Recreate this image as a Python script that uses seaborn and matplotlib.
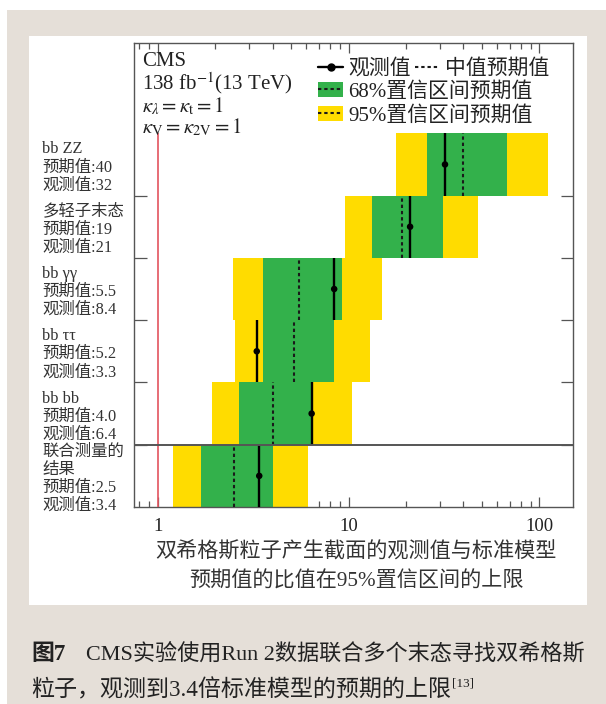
import numpy as np
import pandas as pd
import matplotlib
matplotlib.use("Agg")
import matplotlib.pyplot as plt
import matplotlib.ticker as mticker
from matplotlib.patches import Rectangle, Patch
from matplotlib.lines import Line2D
from matplotlib.legend_handler import HandlerTuple
import seaborn as sns

# Upper limits on the HH cross section relative to the SM prediction (95% CL)
channels = ["bb ZZ", "多轻子末态", "bb γγ", "bb ττ", "bb bb", "联合测量的\n结果"]
expected = [40, 19, 5.5, 5.2, 4.0, 2.5]
observed = [32, 21, 8.4, 3.3, 6.4, 3.4]
band68_lo = [25.8, 13.3, 3.56, 3.56, 2.66, 1.68]
band68_hi = [67.9, 31.3, 9.25, 8.4, 6.5, 4.02]
band95_lo = [17.8, 9.6, 2.48, 2.54, 1.92, 1.20]
band95_hi = [111, 47.8, 15.0, 13.0, 10.4, 6.13]

x_ticks = [1, 10, 100]
x_tick_labels = ["1", "10", "100"]

GREEN = "#33b14b"
YELLOW = "#ffdc00"
INK = "#222222"
DOT = (0, (1.6, 1.4))

sns.set_theme(style="ticks")
plt.rcParams["font.family"] = ["Liberation Serif", "Noto Sans CJK SC"]
plt.rcParams["mathtext.fontset"] = "stix"
plt.rcParams["text.color"] = INK

W, H = 606, 704
fig = plt.figure(figsize=(W / 100, H / 100), dpi=100)
fig.patch.set_facecolor("white")


def fx(px):
    return px / W


def fy(py):
    return 1 - py / H


# page background and white panel
fig.patches.append(Rectangle((fx(7), 0), 1 - fx(7), fy(10), transform=fig.transFigure,
                             facecolor="#e5dfd8", edgecolor="none", zorder=-10))
fig.patches.append(Rectangle((fx(29), fy(605)), fx(587) - fx(29), fy(36) - fy(605),
                             transform=fig.transFigure, facecolor="white",
                             edgecolor="none", zorder=-9))

ax = fig.add_axes([fx(134), fy(507), fx(573) - fx(134), fy(43) - fy(507)])

df = pd.DataFrame({
    "channel": channels,
    "expected": expected,
    "observed": observed,
    "lo68": band68_lo, "hi68": band68_hi,
    "lo95": band95_lo, "hi95": band95_hi,
})
df["y"] = np.arange(len(df))[::-1]

ax.set_xscale("log")
ax.barh(df["y"], df["hi95"] - df["lo95"], left=df["lo95"], height=1.0,
        color=YELLOW, linewidth=0, zorder=1)
ax.barh(df["y"], df["hi68"] - df["lo68"], left=df["lo68"], height=1.0,
        color=GREEN, linewidth=0, zorder=2)
ax.vlines(df["expected"], df["y"] - 0.5, df["y"] + 0.5, colors="#1a1a1a",
          linestyles=[DOT], linewidth=1.5, zorder=3)
ax.vlines(df["observed"], df["y"] - 0.5, df["y"] + 0.5, colors="black",
          linewidth=1.7, zorder=4)
sns.scatterplot(data=df, x="observed", y="y", color="black", s=22,
                edgecolor="none", ax=ax, zorder=5, legend=False)

# SM reference and separator of the combined result
ax.vlines(1, -0.5, df["y"].max() + 0.5, colors="#e3545f", linewidth=1.2, zorder=6)
ax.axhline(0.5, color="#555555", linewidth=1.4, zorder=6)

ax.set_xlim(0.75, 150)
ax.set_ylim(-0.5, 6.95)
ax.set_ylabel("")

ax.set_xticks(x_ticks, x_tick_labels)
ax.xaxis.set_minor_locator(mticker.LogLocator(base=10, subs=np.arange(2, 10)))
ax.xaxis.set_minor_formatter(mticker.NullFormatter())
ax.tick_params(axis="x", which="both", direction="in", top=True, bottom=True,
               color="#555555", width=0.9, labelsize=13.5, pad=8, labelcolor=INK)
ax.tick_params(axis="x", which="major", length=7)
ax.tick_params(axis="x", which="minor", length=4)


def fmt(v):
    return f"{v:.0f}" if v >= 10 else f"{v:.1f}"


row_labels = [f"{c}\n预期值:{fmt(e)}\n观测值:{fmt(o)}"
              for c, e, o in zip(df["channel"], df["expected"], df["observed"])]
ax.set_yticks(df["y"], row_labels)
ax.yaxis.set_minor_locator(mticker.FixedLocator(df["y"].values[1:] + 0.5))
ax.tick_params(axis="y", which="major", length=0, pad=66, labelsize=11.8,
               labelcolor="#333333")
ax.tick_params(axis="y", which="minor", direction="in", left=True, right=True,
               length=9, width=0.9, color="#555555")
for lab in ax.get_yticklabels():
    lab.set_horizontalalignment("left")
    lab.set_linespacing(1.17)

for sp in ax.spines.values():
    sp.set_color("#555555")
    sp.set_linewidth(1.0)

# x axis title
ax.set_xlabel("双希格斯粒子产生截面的观测值与标准模型\n预期值的比值在95%置信区间的上限",
              fontsize=15.2, linespacing=1.65, color="#333333")
ax.xaxis.set_label_coords((356 - 134) / 439, (507 - 541) / 464)

# experiment annotation
fig.text(fx(142), fy(62), "CMS", fontsize=15, va="center", ha="left")
fig.text(fx(142), fy(83), r"138 fb$^{-1}$(13 TeV)", fontsize=15, va="center", ha="left")
fig.text(fx(142), fy(106), r"$\kappa_\lambda = \kappa_\mathrm{t} = 1$", fontsize=15,
         va="center", ha="left")
fig.text(fx(142), fy(127), r"$\kappa_\mathrm{V} = \kappa_\mathrm{2V} = 1$", fontsize=15,
         va="center", ha="left")

# legend
obs_h = Line2D([], [], color="black", lw=1.7, marker="o", markersize=5)
exp_h = Line2D([], [], color="#1a1a1a", lw=1.5, ls=DOT)
g_h = (Patch(facecolor=GREEN, edgecolor="none"), Line2D([], [], color="#1a1a1a", lw=1.5, ls=DOT))
y_h = (Patch(facecolor=YELLOW, edgecolor="none"), Line2D([], [], color="#1a1a1a", lw=1.5, ls=DOT))

leg1 = ax.legend([obs_h, exp_h], ["观测值", "中值预期值"], ncol=2, loc="center left",
                 bbox_to_anchor=(fx(318), fy(69)), bbox_transform=fig.transFigure,
                 frameon=False, fontsize=15, handlelength=1.2, handletextpad=0.25,
                 columnspacing=0.2, borderpad=0, borderaxespad=0)
ax.add_artist(leg1)
ax.legend([g_h, y_h], ["68%置信区间预期值", "95%置信区间预期值"],
          handler_map={tuple: HandlerTuple(ndivide=1, pad=0)}, loc="upper left",
          bbox_to_anchor=(fx(318), fy(82)), bbox_transform=fig.transFigure,
          frameon=False, fontsize=15, handlelength=1.2, handletextpad=0.25,
          labelspacing=0.2, borderpad=0, borderaxespad=0)

# figure caption
fig.text(fx(31), fy(654), "图7", fontsize=16.5, fontweight="bold", va="center", ha="left")
fig.text(fx(86), fy(654), "CMS实验使用Run 2数据联合多个末态寻找双希格斯", fontsize=15.95,
         va="center", ha="left")
line2 = fig.text(fx(31), fy(690), "粒子，观测到3.4倍标准模型的预期的上限", fontsize=16.6,
                 va="center", ha="left")
fig.canvas.draw()
bb = line2.get_window_extent()
fig.text((bb.x1 + 1) / W, fy(684), "[13]", fontsize=9.5, va="center", ha="left")

fig.savefig("out.png", dpi=100, facecolor=fig.get_facecolor())
